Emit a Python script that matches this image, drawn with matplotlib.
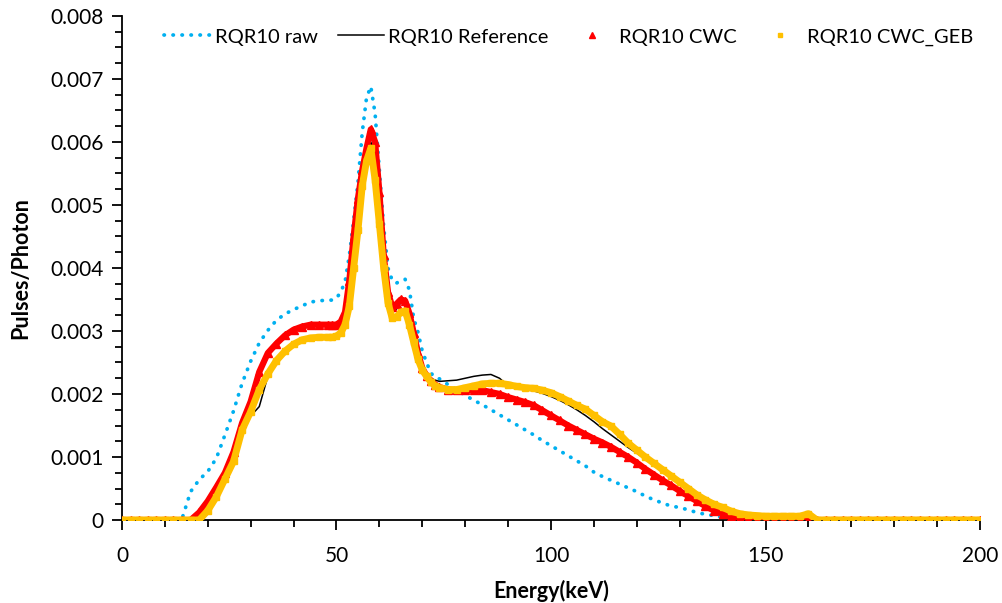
import matplotlib
matplotlib.use('Agg')
import matplotlib.pyplot as plt
from matplotlib.lines import Line2D
from matplotlib.ticker import MultipleLocator, FuncFormatter
import numpy as np

energy = [0, 2, 4, 6, 8, 10, 12, 14, 16, 18, 20, 22, 24, 26, 28, 30, 32, 34, 36, 38,
          40, 42, 44, 46, 48,
          49, 50, 51, 52, 53, 54, 55, 56, 57, 58, 59, 60, 61, 62, 63, 64, 65, 66, 67,
          68, 69, 70, 71, 72, 73,
          74, 76, 78, 80, 82, 84, 86, 88, 90, 92, 94, 96, 98, 100, 102, 104, 106, 108,
          110, 112, 114, 116, 118, 120, 122, 124, 126, 128, 130, 132, 134, 136, 138,
          140, 142, 144, 146, 148, 150, 152, 154, 156, 158, 160,
          162, 164, 166, 168, 170, 172, 174, 176, 178, 180, 182, 184, 186, 188, 190,
          192, 194, 196, 198, 200]

raw = [0, 0, 0, 0, 0, 0, 0, 0.00002, 0.00045, 0.00064, 0.00077, 0.00098, 0.00135,
       0.00173, 0.00217, 0.00252, 0.00281, 0.00301, 0.00317, 0.00327,
       0.00334, 0.0034, 0.00346, 0.00348, 0.00349,
       0.00349, 0.00352, 0.00362, 0.00378, 0.0042, 0.00475, 0.00535, 0.00615, 0.0067,
       0.00688, 0.00645, 0.00555, 0.00465, 0.004, 0.0038, 0.00376, 0.0038, 0.00382,
       0.00365, 0.0032, 0.00298, 0.00268, 0.0025, 0.00233, 0.00227,
       0.00224, 0.00215, 0.00207, 0.00198, 0.0019, 0.00183, 0.00175, 0.00167, 0.00159,
       0.00151, 0.00143, 0.00135, 0.00126, 0.00118, 0.0011, 0.00102, 0.00094, 0.00086,
       0.00076, 0.00069, 0.00063, 0.00057, 0.00051, 0.00045, 0.00038, 0.00032, 0.00027,
       0.00022, 0.0002, 0.00016, 0.00012, 0.00009, 0.00007,
       0.00004, 0.00003, 0.00001, 0, 0, 0, 0, 0, 0, 0, 0,
       0, 0, 0, 0, 0, 0, 0, 0, 0, 0, 0, 0, 0, 0, 0,
       0, 0, 0, 0, 0]

reference = [0, 0, 0, 0, 0, 0, 0, 0, 0, 0, 0.00014, 0.00036, 0.00063, 0.00092, 0.00138,
             0.00165, 0.0018, 0.00228, 0.0025, 0.00266,
             0.00277, 0.00284, 0.00287, 0.00288, 0.00289,
             0.00289, 0.0029, 0.00297, 0.00315, 0.0037, 0.0044, 0.005, 0.0055, 0.00585,
             0.006, 0.0058, 0.005, 0.0041, 0.0036, 0.0033, 0.00335, 0.00345, 0.00345,
             0.0032, 0.0029, 0.0026, 0.0024, 0.00232, 0.00225, 0.00222,
             0.0022, 0.00221, 0.00222, 0.00225, 0.00228, 0.0023, 0.00231, 0.00225, 0.00213,
             0.0021, 0.00207, 0.00205, 0.00201, 0.00196, 0.0019, 0.00183, 0.00175, 0.00166,
             0.00156, 0.00145, 0.00135, 0.00125, 0.00115, 0.00106, 0.00097, 0.00088, 0.0008,
             0.0007, 0.0006, 0.0005, 0.0004, 0.00031, 0.00023,
             0.00016, 0.0001, 0.00005, 0.00002, 0, 0, 0, 0, 0, 0, 0,
             0, 0, 0, 0, 0, 0, 0, 0, 0, 0, 0, 0, 0, 0, 0,
             0, 0, 0, 0, 0]

cwc = [0, 0, 0, 0, 0, 0, 0, 0, 0, 0.00012, 0.0003, 0.00052, 0.00075, 0.00108, 0.00154,
       0.00188, 0.00235, 0.00265, 0.0028, 0.00293,
       0.00302, 0.00307, 0.0031, 0.0031, 0.0031,
       0.0031, 0.0031, 0.00315, 0.0033, 0.0038, 0.0045, 0.0051, 0.00555, 0.0059,
       0.0062, 0.006, 0.0052, 0.0042, 0.00362, 0.00338, 0.00343, 0.0035, 0.00348,
       0.00328, 0.00297, 0.00265, 0.00241, 0.00229, 0.00221, 0.00215,
       0.00211, 0.00207, 0.00206, 0.00206, 0.00206, 0.00206, 0.00203, 0.002, 0.00195,
       0.00191, 0.00187, 0.00182, 0.00174, 0.00166, 0.00158, 0.0015, 0.00143, 0.00136,
       0.00129, 0.00123, 0.00116, 0.00108, 0.001, 0.00091, 0.00081, 0.00072, 0.00063,
       0.00055, 0.00046, 0.00038, 0.0003, 0.00022, 0.00015,
       0.0001, 0.00005, 0.00003, 0.00001, 0, 0, 0, 0, 0, 0, 0,
       0, 0, 0, 0, 0, 0, 0, 0, 0, 0, 0, 0, 0, 0, 0,
       0, 0, 0, 0, 0]

cwc_geb = [0, 0, 0, 0, 0, 0, 0, 0, 0, 0, 0.00015, 0.00037, 0.00065, 0.00093, 0.00143,
           0.00172, 0.00207, 0.00232, 0.00253, 0.00268,
           0.00279, 0.00286, 0.00289, 0.0029, 0.0029,
           0.0029, 0.00292, 0.00297, 0.0031, 0.0034, 0.004, 0.0046, 0.0053, 0.0057,
           0.0059, 0.0054, 0.0047, 0.004, 0.00345, 0.0032, 0.00322, 0.0033, 0.00332,
           0.0031, 0.00282, 0.00255, 0.00238, 0.00228, 0.00219, 0.00213,
           0.0021, 0.00207, 0.00207, 0.0021, 0.00213, 0.00216, 0.00217, 0.00217, 0.00215,
           0.00212, 0.0021, 0.00209, 0.00206, 0.00202, 0.00196, 0.00189, 0.00182, 0.00176,
           0.00166, 0.00156, 0.00149, 0.00136, 0.00122, 0.00111, 0.001, 0.0009, 0.0008,
           0.0007, 0.0006, 0.0005, 0.0004, 0.00032, 0.00025,
           0.0002, 0.00014, 0.0001, 0.00008, 0.00007, 0.00006, 0.00006, 0.00006, 0.00006,
           0.00006, 0.0001,
           0, 0, 0, 0, 0, 0, 0, 0, 0, 0, 0, 0, 0, 0, 0,
           0, 0, 0, 0, 0]

labels = ['RQR10 raw', 'RQR10 Reference', 'RQR10 CWC', 'RQR10 CWC_GEB']
BLUE, RED, ORANGE = '#00B0F0', '#FF0000', '#FFC000'
DOTS = (0, (0.1, 2.3))

plt.rcParams['font.family'] = ['Lato', 'DejaVu Sans']

fig = plt.figure(figsize=(10.03, 6.03), dpi=100)
ax = fig.add_axes([0.1216, 0.1376, 0.8555, 0.836])

ax.plot(energy, raw, color=BLUE, linestyle=DOTS, linewidth=2.7,
        dash_capstyle='round', zorder=2)
ax.plot(energy, reference, color='black', linewidth=1.1, zorder=3)
# dense marker bands: a thick line of the same colour under the markers
ax.plot(energy, cwc, color=RED, linewidth=4.5, zorder=4)
ax.plot(energy, cwc, color=RED, linestyle='none', marker='^', markersize=5.5, zorder=4)
ax.plot(energy, cwc_geb, color=ORANGE, linewidth=5, zorder=5)
ax.plot(energy, cwc_geb, color=ORANGE, linestyle='none', marker='s', markersize=5, zorder=5)

ax.set_xlim(0, 200)
ax.set_ylim(0, 0.008)
ax.xaxis.set_major_locator(MultipleLocator(50))
ax.xaxis.set_minor_locator(MultipleLocator(10))
ax.yaxis.set_major_locator(MultipleLocator(0.001))
ax.yaxis.set_minor_locator(MultipleLocator(0.00025))
ax.yaxis.set_major_formatter(FuncFormatter(lambda v, p: '0' if abs(v) < 1e-9 else '%.3f' % v))
ax.xaxis.set_major_formatter(FuncFormatter(lambda v, p: '%d' % v))

for side in ['top', 'right']:
    ax.spines[side].set_visible(False)
for side in ['left', 'bottom']:
    ax.spines[side].set_linewidth(1.3)

ax.tick_params(axis='both', which='major', direction='out', length=7, width=1.3,
               labelsize=15, colors='black')
ax.tick_params(axis='both', which='minor', direction='out', length=5, width=1.3)
ax.tick_params(axis='x', which='major', pad=12)
ax.tick_params(axis='y', which='major', pad=6)

ax.set_xlabel('Energy(keV)', fontsize=15.5, fontweight='bold', labelpad=10)
ax.set_ylabel('Pulses/Photon', fontsize=15.5, fontweight='bold', labelpad=14)

handles = [
    Line2D([], [], color=BLUE, linestyle=DOTS, linewidth=2.7, dash_capstyle='round'),
    Line2D([], [], color='black', linewidth=1.1),
    Line2D([], [], color=RED, linestyle='none', marker='^', markersize=4),
    Line2D([], [], color=ORANGE, linestyle='none', marker='s', markersize=3.5),
]
ax.legend(handles, labels, loc='center', bbox_to_anchor=(0.521, 0.958), ncol=4,
          frameon=False, fontsize=14.5, handlelength=2.3, handletextpad=0.2,
          columnspacing=1.0)

plt.savefig('out.png', dpi=100)
